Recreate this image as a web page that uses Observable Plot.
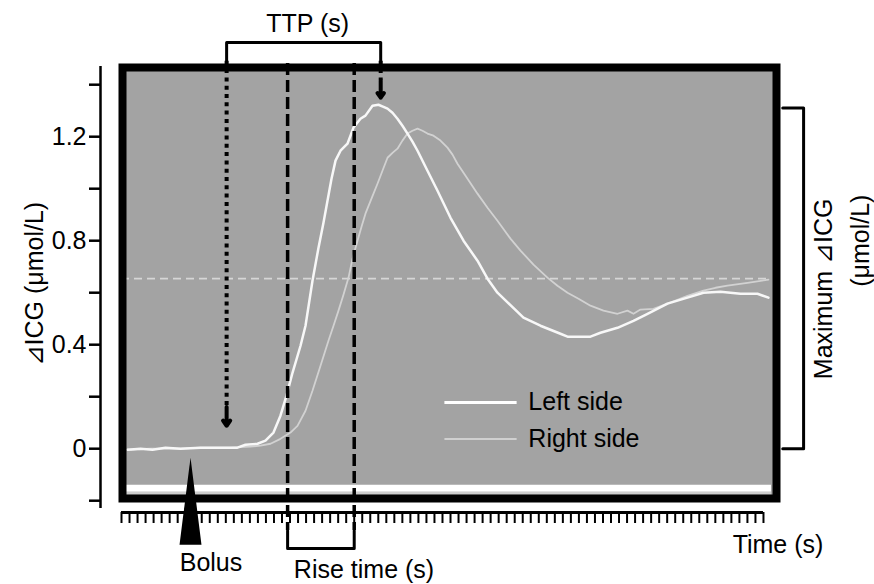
<!DOCTYPE html>
<html><head><meta charset="utf-8">
<script src="https://cdn.jsdelivr.net/npm/d3@7"></script>
<script src="https://cdn.jsdelivr.net/npm/@observablehq/plot@0.6"></script>
<style>body{margin:0;background:#fff;} #chart{width:874px;height:584px;}</style>
</head><body><div id="chart"></div>
<script>
// ---- data (time in s, ΔICG in µmol/L) ----
const seriesNames = ["Left side", "Right side"];
const leftTime = [0.75,2.37,3.86,5.48,7.35,9.84,12.34,14.45,15.45,16.95,17.94,18.94,19.81,20.56,21.31,22.31,22.93,23.80,24.55,25.17,25.67,26.17,26.67,27.29,28.16,28.91,29.78,30.40,31.28,32.02,32.65,33.15,33.77,34.39,35.01,35.64,36.26,36.89,38.13,39.38,41.00,42.62,44.36,45.61,46.85,50.09,52.21,54.70,55.58,58.44,59.69,61.81,63.80,65.55,68.04,70.53,72.52,74.64,77.13,79.25,80.62];
const leftValue = [-0.004,0,-0.004,0.004,0,0.004,0.004,0.004,0.015,0.019,0.031,0.062,0.127,0.204,0.292,0.396,0.473,0.646,0.773,0.869,0.954,1.038,1.108,1.146,1.173,1.235,1.269,1.281,1.319,1.323,1.315,1.308,1.292,1.269,1.242,1.212,1.181,1.146,1.069,0.992,0.888,0.800,0.723,0.654,0.600,0.504,0.473,0.442,0.431,0.431,0.446,0.465,0.492,0.519,0.558,0.581,0.600,0.604,0.596,0.596,0.581];
const rightTime = [0.75,3.61,7.35,9.84,13.58,16.07,17.32,18.57,19.81,21.06,21.93,22.93,23.80,24.80,25.79,26.42,27.04,27.66,28.29,28.79,29.41,29.91,30.40,31.15,31.90,32.52,33.15,33.77,34.39,35.01,35.64,36.26,36.89,37.51,38.13,38.88,39.75,40.62,41.25,41.87,43.12,44.36,45.61,46.85,48.47,49.72,51.34,53.08,54.33,55.58,56.95,58.44,60.06,61.81,63.05,63.80,64.67,66.29,68.04,69.28,70.53,72.52,74.02,75.51,78.01,80.62];
const rightValue = [-0.004,0,0,0.004,0.004,0.008,0.012,0.019,0.038,0.062,0.088,0.146,0.223,0.319,0.415,0.473,0.531,0.592,0.658,0.731,0.800,0.854,0.904,0.962,1.019,1.069,1.119,1.138,1.154,1.185,1.212,1.223,1.231,1.223,1.212,1.204,1.185,1.158,1.131,1.096,1.038,0.981,0.927,0.877,0.808,0.762,0.708,0.658,0.627,0.600,0.577,0.550,0.531,0.519,0.531,0.519,0.535,0.538,0.558,0.573,0.588,0.608,0.619,0.627,0.638,0.650];
const yTicks = [-0.2,0,0.2,0.4,0.6,0.8,1.0,1.2,1.4];
const yTickLabels = ["","0","","0.4","","0.8","","1.2",""];
const xTicks = d3.range(0, 81);           // one tick per second, no labels
// measured events
const bolusTime = 8.6;
const ttpStart = 13.1;
const peakTime = 32.3;
const riseStart = 20.7, riseEnd = 29.0;
const peakValue = 1.31;
const halfMax = 0.654;
const baselineBand = -0.152;

// ---- layout constants (data units) ----
const frameTopV = 1.4815, ttpBracketV = 1.562;
const riseBottomV = -0.384, riseCornerV = -0.315;
const maxBracketX1 = 82.4, maxBracketX2 = 85.0;
const legendX1 = 40.3, legendX2 = 49.3, legendTextX = 50.7, legendV = [0.178, 0.037];
const font = "'Liberation Sans', Arial, Helvetica, sans-serif";
const fs = 25;

const left = leftTime.map((t, i) => ({t, v: leftValue[i]}));
const right = rightTime.map((t, i) => ({t, v: rightValue[i]}));
const legend = seriesNames.map((name, i) => ({name, v: legendV[i]}));
const labelFor = new Map(yTicks.map((d, i) => [d, yTickLabels[i]]));
const bolusSymbol = {draw(ctx) { ctx.moveTo(0, 0); ctx.lineTo(11, 87); ctx.lineTo(-11, 87); ctx.closePath(); }};

const chart = Plot.plot({
  width: 874, height: 584,
  marginLeft: 121, marginRight: 103, marginTop: 66, marginBottom: 76,
  x: {domain: [0, 81]},
  y: {domain: [-0.23, 1.47]},
  style: {fontFamily: font, fontSize: fs + "px", background: "white", color: "black", overflow: "visible"},
  marks: [
    Plot.frame({fill: "#a3a3a3", stroke: null, insetLeft: 1, insetTop: 1, insetRight: -5, insetBottom: 10}),
    Plot.ruleY([baselineBand], {stroke: "white", strokeWidth: 7}),
    Plot.ruleY([baselineBand - 0.019], {stroke: "#cdcdcd", strokeWidth: 3}),
    Plot.ruleY([halfMax], {stroke: "#d6d6d6", strokeWidth: 1.6, strokeDasharray: "8,5"}),
    Plot.line(right, {x: "t", y: "v", stroke: "#d2d2d2", strokeWidth: 1.8}),
    Plot.line(left, {x: "t", y: "v", stroke: "#f8f8f8", strokeWidth: 2.5}),
    // legend
    Plot.ruleY(legend, {y: "v", x1: legendX1, x2: legendX2, stroke: (d, i) => i === 0 ? "#ffffff" : "#d0d0d0", strokeWidth: (d, i) => i === 0 ? 3 : 2}),
    Plot.text(legend, {x: legendTextX, y: "v", text: "name", textAnchor: "start", fontSize: fs, fill: "black"}),
    // frame
    Plot.frame({stroke: "black", strokeWidth: 8, insetLeft: 1, insetTop: 1, insetRight: -5, insetBottom: 10}),
    // rise time
    Plot.ruleX([riseStart, riseEnd], {y1: frameTopV, y2: riseCornerV, stroke: "black", strokeWidth: 3.5, strokeDasharray: "12,5"}),
    Plot.line([{t: riseStart, v: riseCornerV}, {t: riseStart, v: riseBottomV}, {t: riseEnd, v: riseBottomV}, {t: riseEnd, v: riseCornerV}], {x: "t", y: "v", stroke: "black", strokeWidth: 3}),
    // TTP
    Plot.line([{t: ttpStart, v: frameTopV}, {t: ttpStart, v: ttpBracketV}, {t: peakTime, v: ttpBracketV}, {t: peakTime, v: frameTopV}], {x: "t", y: "v", stroke: "black", strokeWidth: 3, strokeLinejoin: "round"}),
    Plot.ruleX([ttpStart], {y1: 1.49, y2: 0.16, stroke: "black", strokeWidth: 4, strokeDasharray: "4,4.3"}),
    Plot.ruleX([peakTime], {y1: 1.49, y2: 1.415, stroke: "black", strokeWidth: 4, strokeDasharray: "4,4.3"}),
    Plot.arrow([{t: ttpStart, a: 0.16, b: 0.088}, {t: peakTime, a: 1.415, b: 1.35}], {x1: "t", x2: "t", y1: "a", y2: "b", stroke: "black", strokeWidth: 4, headLength: 15, headAngle: 70}),
    // maximum bracket
    Plot.line([{t: maxBracketX1, v: peakValue}, {t: maxBracketX2, v: peakValue}, {t: maxBracketX2, v: 0}, {t: maxBracketX1, v: 0}], {x: "t", y: "v", stroke: "black", strokeWidth: 3}),
    // bolus
    Plot.dot([{t: bolusTime, v: -0.035}], {x: "t", y: "v", symbol: bolusSymbol, fill: "black", stroke: null}),
    // axes
    Plot.ruleX([0], {y1: -0.23, y2: 1.47, dx: -21, stroke: "black", strokeWidth: 2.5}),
    Plot.axisY({ticks: yTicks, tickFormat: d => labelFor.get(d) ?? "", anchor: "left", dx: -21, tickSize: 11, tickPadding: 3, strokeWidth: 2.5, fontSize: fs, label: null}),
    Plot.ruleY([-0.23], {x1: 0, x2: 80, dy: 4, stroke: "black", strokeWidth: 3}),
    Plot.axisX({ticks: xTicks, tickFormat: () => "", anchor: "bottom", dy: 4, tickSize: 11, strokeWidth: 2, label: null}),
    // labels
    Plot.text(["TTP (s)"], {x: 23.2, y: 1.6008, lineAnchor: "bottom", fontSize: fs}),
    Plot.text(["Bolus"], {x: 11.15, y: -0.4685, lineAnchor: "bottom", fontSize: fs}),
    Plot.text(["Rise time (s)"], {x: 30.22, y: -0.4954, lineAnchor: "bottom", fontSize: fs}),
    Plot.text(["Time (s)"], {x: 81.81, y: -0.403, lineAnchor: "bottom", fontSize: fs}),
    Plot.text(["⊿ICG (μmol/L)"], {x: -10.72, y: 0.633, rotate: -90, fontSize: fs}),
    Plot.text(["Maximum ⊿ICG"], {x: 87.6, y: 0.615, rotate: -90, fontSize: fs}),
    Plot.text(["(μmol/L)"], {x: 92.1, y: 0.8, rotate: -90, fontSize: fs})
  ]
});
document.getElementById("chart").appendChild(chart);
</script>
</body></html>
